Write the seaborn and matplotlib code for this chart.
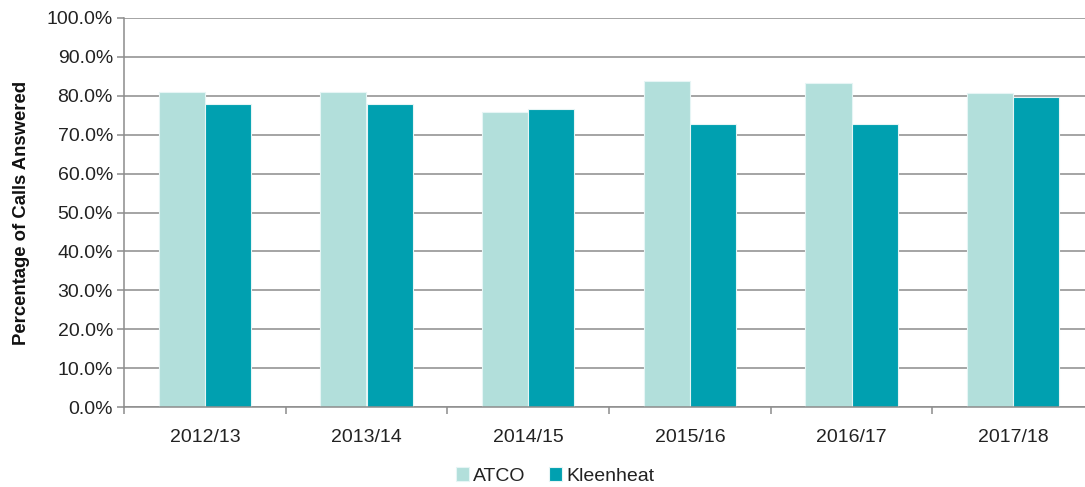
import matplotlib
matplotlib.use("Agg")
import matplotlib.pyplot as plt
import seaborn as sns
import pandas as pd
import numpy as np
from matplotlib.ticker import FuncFormatter, FixedLocator

years = ["2012/13", "2013/14", "2014/15", "2015/16", "2016/17", "2017/18"]
atco = [80.9, 80.9, 75.8, 83.8, 83.4, 80.7]
kleenheat = [77.9, 77.9, 76.6, 72.7, 72.7, 79.8]
series_names = ["ATCO", "Kleenheat"]
colors = ["#b2dfdb", "#00a0b0"]

df = pd.DataFrame({
    "Year": years * 2,
    "Value": atco + kleenheat,
    "Series": [series_names[0]] * len(years) + [series_names[1]] * len(years),
})

sns.set_theme(style="white")
plt.rcParams["font.family"] = ["Liberation Sans", "DejaVu Sans"]

fig = plt.figure(figsize=(10.85, 4.87), dpi=100)
ax = fig.add_axes([124/1085, 1 - 407/487, (1094-124)/1085, (407-18)/487])

sns.barplot(data=df, x="Year", y="Value", hue="Series", palette=colors,
            width=0.57, ax=ax, edgecolor="#e6f5f5", linewidth=0.8, saturation=1)

grid_c = "#8c8c8c"
fs = 14
ax.set_ylim(0, 100)
ax.set_xlim(-0.5, len(years) - 0.5)
ax.yaxis.set_major_locator(FixedLocator(np.arange(0, 101, 10)))
ax.yaxis.set_major_formatter(FuncFormatter(lambda v, p: f"{v:.1f}%"))
ax.grid(axis="y", color=grid_c, linewidth=1.1)
ax.set_axisbelow(True)
for s in ["top", "right"]:
    ax.spines[s].set_visible(False)
for s in ["left", "bottom"]:
    ax.spines[s].set_color(grid_c)
    ax.spines[s].set_linewidth(1.1)

ax.tick_params(axis="y", which="major", length=5, width=1.1, color=grid_c,
               direction="out", left=True, labelsize=fs, labelcolor="#222222", pad=3)
ax.tick_params(axis="x", which="major", length=0, labelsize=fs, labelcolor="#222222", pad=16)
ax.xaxis.set_minor_locator(FixedLocator(np.arange(-0.5, len(years), 1.0)))
ax.tick_params(axis="x", which="minor", length=5, width=1.1, color=grid_c,
               direction="out", bottom=True)

ax.set_xlabel("")
ax.set_ylabel("Percentage of Calls Answered", fontsize=13.3, fontweight="bold",
              color="#111111", labelpad=12)

handles, labels = ax.get_legend_handles_labels()
ax.get_legend().remove()
leg = fig.legend(handles, labels, loc="center", bbox_to_anchor=(555/1085, 11/487), ncol=2,
                 frameon=False, fontsize=fs, handlelength=0.7, handleheight=0.7,
                 handletextpad=0.2, columnspacing=1.2, borderpad=0)
for t in leg.get_texts():
    t.set_color("#222222")

fig.savefig("out.png", dpi=100)
